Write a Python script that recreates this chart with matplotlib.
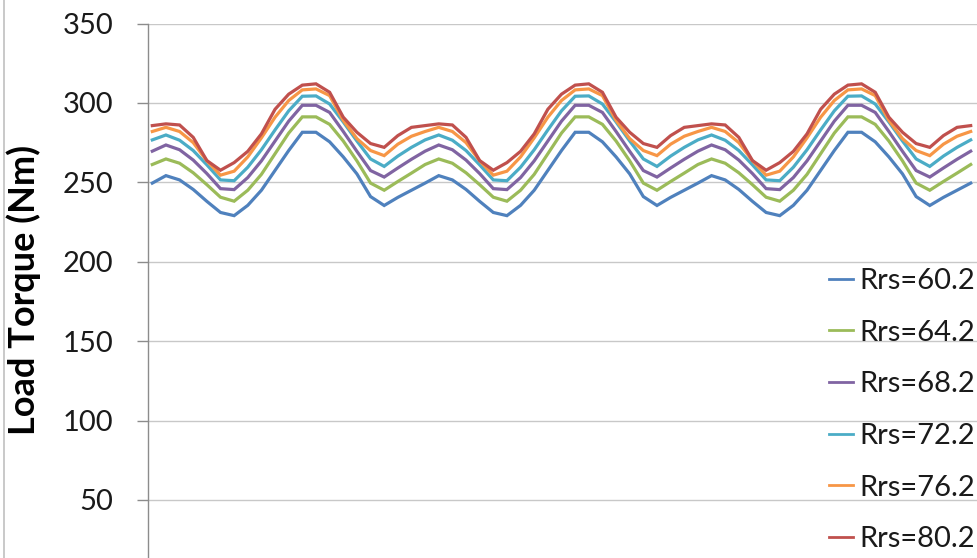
import matplotlib
matplotlib.use("Agg")
import matplotlib.pyplot as plt
from matplotlib.lines import Line2D

# Load torque samples (Nm) for each rotor resistance setting, 61 samples each
series_labels = ["Rrs=60.2", "Rrs=64.2", "Rrs=68.2", "Rrs=72.2", "Rrs=76.2", "Rrs=80.2"]

torque_rrs_60_2 = [
    249.5, 254.2, 251.5, 245.5, 238.0, 231.0, 229.0, 235.5, 245.0, 257.5,
    270.0, 281.5, 281.5, 275.5, 266.0, 255.3, 241.0, 235.4, 240.5, 245.0,
    249.5, 254.2, 251.5, 245.5, 238.0, 231.0, 229.0, 235.5, 245.0, 257.5,
    270.0, 281.5, 281.5, 275.5, 266.0, 255.3, 241.0, 235.4, 240.5, 245.0,
    249.5, 254.2, 251.5, 245.5, 238.0, 231.0, 229.0, 235.5, 245.0, 257.5,
    270.0, 281.5, 281.5, 275.5, 266.0, 255.3, 241.0, 235.4, 240.5, 245.0,
    249.5,
]
torque_rrs_64_2 = [
    261.2, 264.7, 262.0, 256.0, 248.5, 240.6, 238.1, 245.0, 255.0, 268.0,
    281.0, 291.2, 291.2, 286.5, 276.0, 263.5, 249.5, 245.0, 250.5, 255.8,
    261.2, 264.7, 262.0, 256.0, 248.5, 240.6, 238.1, 245.0, 255.0, 268.0,
    281.0, 291.2, 291.2, 286.5, 276.0, 263.5, 249.5, 245.0, 250.5, 255.8,
    261.2, 264.7, 262.0, 256.0, 248.5, 240.6, 238.1, 245.0, 255.0, 268.0,
    281.0, 291.2, 291.2, 286.5, 276.0, 263.5, 249.5, 245.0, 250.5, 255.8,
    261.2,
]
torque_rrs_68_2 = [
    269.6, 273.5, 270.5, 264.0, 255.5, 246.0, 245.4, 253.0, 263.5, 276.0,
    288.5, 298.5, 298.5, 294.0, 282.0, 269.5, 257.4, 253.3, 259.0, 264.5,
    269.6, 273.5, 270.5, 264.0, 255.5, 246.0, 245.4, 253.0, 263.5, 276.0,
    288.5, 298.5, 298.5, 294.0, 282.0, 269.5, 257.4, 253.3, 259.0, 264.5,
    269.6, 273.5, 270.5, 264.0, 255.5, 246.0, 245.4, 253.0, 263.5, 276.0,
    288.5, 298.5, 298.5, 294.0, 282.0, 269.5, 257.4, 253.3, 259.0, 264.5,
    269.6,
]
torque_rrs_72_2 = [
    276.7, 279.8, 276.5, 270.0, 261.0, 251.5, 251.0, 259.5, 270.5, 283.0,
    295.0, 304.2, 304.4, 299.3, 288.0, 276.0, 264.7, 260.0, 266.5, 272.0,
    276.7, 279.8, 276.5, 270.0, 261.0, 251.5, 251.0, 259.5, 270.5, 283.0,
    295.0, 304.2, 304.4, 299.3, 288.0, 276.0, 264.7, 260.0, 266.5, 272.0,
    276.7, 279.8, 276.5, 270.0, 261.0, 251.5, 251.0, 259.5, 270.5, 283.0,
    295.0, 304.2, 304.4, 299.3, 288.0, 276.0, 264.7, 260.0, 266.5, 272.0,
    276.7,
]
torque_rrs_76_2 = [
    282.0, 284.6, 282.0, 275.0, 263.5, 254.5, 257.0, 266.0, 278.0, 291.0,
    301.5, 308.2, 308.8, 304.6, 289.0, 277.5, 270.0, 266.8, 274.0, 279.0,
    282.0, 284.6, 282.0, 275.0, 263.5, 254.5, 257.0, 266.0, 278.0, 291.0,
    301.5, 308.2, 308.8, 304.6, 289.0, 277.5, 270.0, 266.8, 274.0, 279.0,
    282.0, 284.6, 282.0, 275.0, 263.5, 254.5, 257.0, 266.0, 278.0, 291.0,
    301.5, 308.2, 308.8, 304.6, 289.0, 277.5, 270.0, 266.8, 274.0, 279.0,
    282.0,
]
torque_rrs_80_2 = [
    285.7, 286.8, 286.1, 278.3, 263.7, 257.6, 262.4, 269.5, 280.5, 296.0,
    305.5, 311.2, 312.0, 306.7, 291.0, 281.5, 274.4, 272.0, 279.4, 284.6,
    285.7, 286.8, 286.1, 278.3, 263.7, 257.6, 262.4, 269.5, 280.5, 296.0,
    305.5, 311.2, 312.0, 306.7, 291.0, 281.5, 274.4, 272.0, 279.4, 284.6,
    285.7, 286.8, 286.1, 278.3, 263.7, 257.6, 262.4, 269.5, 280.5, 296.0,
    305.5, 311.2, 312.0, 306.7, 291.0, 281.5, 274.4, 272.0, 279.4, 284.6,
    285.7,
]

y_ticks = [50, 100, 150, 200, 250, 300, 350]

all_series = [torque_rrs_60_2, torque_rrs_64_2, torque_rrs_68_2,
              torque_rrs_72_2, torque_rrs_76_2, torque_rrs_80_2]
colors = ["#4F81BD", "#9BBB59", "#8064A2", "#4BACC6", "#F79646", "#C0504D"]

plt.rcParams["font.family"] = ["Lato", "DejaVu Sans"]

W, H = 978, 558
fig = plt.figure(figsize=(W / 100, H / 100), dpi=100)

# plot area in pixel units: left axis at x=148, y=350 at 23.5 px, y=0 at 579.3 px
left_px, right_px = 148, 978
top_px, zero_px = 23.5, 579.3
ax = fig.add_axes([left_px / W, (H - zero_px) / H,
                   (right_px - left_px) / W, (zero_px - top_px) / H])

x = list(range(len(torque_rrs_60_2)))
for vals, lab, col in zip(all_series, series_labels, colors):
    ax.plot(x, vals, color=col, lw=2.3, label=lab, solid_joinstyle="miter")

step = 13.64
ax.set_xlim(-(152.3 - left_px) / step, (right_px - 152.3) / step)
ax.set_ylim(0, 350)
ax.set_yticks(y_ticks)
ax.set_xticks([])

ax.grid(axis="y", color="#C8C8C8", lw=1.0)
ax.set_axisbelow(True)
for s in ["top", "right", "bottom"]:
    ax.spines[s].set_visible(False)
ax.spines["left"].set_color("#8C8C8C")
ax.spines["left"].set_linewidth(1.0)
ax.tick_params(axis="y", direction="out", length=8, width=1.0, color="#8C8C8C",
               pad=17, labelsize=21, labelcolor="#1A1A1A")

ax.set_ylabel("Load Torque (Nm)", fontsize=26, fontweight="bold", color="#000000")
ax.yaxis.set_label_coords(-(148 - 41) / (right_px - left_px),
                          1 - (290 - top_px) / (zero_px - top_px))

leg = ax.legend(loc="upper right", bbox_to_anchor=(975 / W, 1 - 268 / H),
                bbox_transform=fig.transFigure, frameon=False, fontsize=21,
                handlelength=0.85, handletextpad=0.2, labelspacing=0.88,
                borderpad=0, borderaxespad=0)
for t in leg.get_texts():
    t.set_color("#1A1A1A")
for h in leg.get_lines():
    h.set_linewidth(2.0)

# chart-area border at the far left
fig.add_artist(Line2D([4 / W, 4 / W], [0, 1], transform=fig.transFigure,
                      color="#C0C0C0", lw=1.2))

fig.savefig("out.png", dpi=100)
